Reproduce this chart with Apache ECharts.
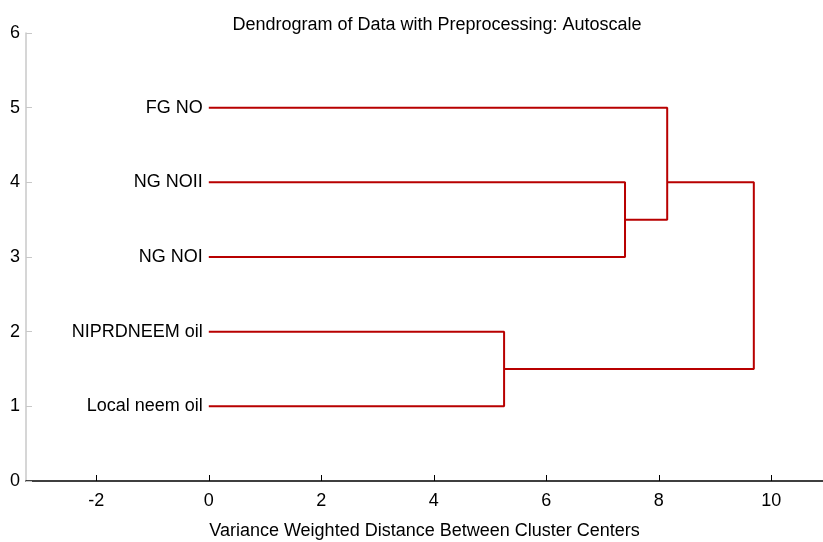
<!DOCTYPE html>
<html>
<head>
<meta charset="utf-8">
<script src="https://cdn.jsdelivr.net/npm/echarts@6/dist/echarts.min.js"></script>
<style>
  html, body { margin: 0; padding: 0; background: #fff; }
  #main { width: 823px; height: 542px; }
</style>
</head>
<body>
<div id="main"></div>
<script>
// leaves, top to bottom
var leafNames = ['FG NO', 'NG NOII', 'NG NOI', 'NIPRDNEEM oil', 'Local neem oil'];
var leafY = [5, 4, 3, 2, 1];
// merges: child ids (0-4 leaves, 5+ merged nodes) and joining distance
var mergeLeft = [1, 0, 3, 6];
var mergeRight = [2, 5, 4, 7];
var mergeDist = [7.40, 8.15, 5.25, 9.69];
var xTicks = [-2, 0, 2, 4, 6, 8, 10];

var font = '"Liberation Sans", Arial, sans-serif';
var lineColor = '#b80000';

// node positions: height = distance, y = mean of its leaves
var nodeX = [], nodeY = [], nodeCount = [];
for (var i = 0; i < leafNames.length; i++) {
    nodeX.push(0);
    nodeY.push(leafY[i]);
    nodeCount.push(1);
}
var series = [];
for (var m = 0; m < mergeDist.length; m++) {
    var a = mergeLeft[m], b = mergeRight[m];
    var cnt = nodeCount[a] + nodeCount[b];
    var y = (nodeY[a] * nodeCount[a] + nodeY[b] * nodeCount[b]) / cnt;
    series.push({
        type: 'line',
        symbol: 'none',
        silent: true,
        lineStyle: { color: lineColor, width: 2 },
        data: [
            [nodeX[a], nodeY[a]],
            [mergeDist[m], nodeY[a]],
            [mergeDist[m], nodeY[b]],
            [nodeX[b], nodeY[b]]
        ]
    });
    nodeX.push(mergeDist[m]);
    nodeY.push(y);
    nodeCount.push(cnt);
}

// leaf labels
series.push({
    type: 'scatter',
    symbolSize: 0,
    silent: true,
    itemStyle: { opacity: 1 },
    label: {
        show: true,
        position: 'left',
        distance: 6,
        color: '#000',
        opacity: 1,
        textBorderWidth: 0,
        fontSize: 18,
        fontFamily: font,
        formatter: function (p) { return leafNames[p.dataIndex]; }
    },
    data: leafY.map(function (v) { return [0, v]; })
});

var myChart = echarts.init(document.getElementById('main'));
var option = {
    animation: false,
    backgroundColor: '#fff',
    title: {
        text: 'Dendrogram of Data with Preprocessing: Autoscale',
        left: 432,
        top: 11,
        textAlign: 'center',
        textStyle: { fontSize: 18, fontWeight: 'normal', color: '#000', fontFamily: font }
    },
    grid: { left: 26, right: 0, top: 33, bottom: 61, outerBoundsMode: 'none', containLabel: false },
    xAxis: {
        type: 'value',
        min: -3.25,
        max: 10.92,
        splitLine: { show: false },
        axisLine: { onZero: false, lineStyle: { color: '#000', width: 1.5 } },
        axisTick: { inside: true, length: 6, customValues: xTicks, lineStyle: { color: '#000' } },
        axisLabel: { customValues: xTicks, color: '#000', fontSize: 18, fontFamily: font, margin: 11 },
        name: 'Variance Weighted Distance Between Cluster Centers',
        nameLocation: 'middle',
        nameGap: 41,
        nameTextStyle: { color: '#000', fontSize: 18, fontFamily: font }
    },
    yAxis: {
        type: 'value',
        min: 0,
        max: 6,
        interval: 1,
        splitLine: { show: false },
        axisLine: { show: true, onZero: false, lineStyle: { color: '#c8c8c8', width: 1.5 } },
        axisTick: { show: true, inside: true, length: 6, lineStyle: { color: '#c8c8c8' } },
        axisLabel: { color: '#000', fontSize: 18, fontFamily: font, margin: 6 }
    },
    series: series
};
myChart.setOption(option);
</script>
</body>
</html>
